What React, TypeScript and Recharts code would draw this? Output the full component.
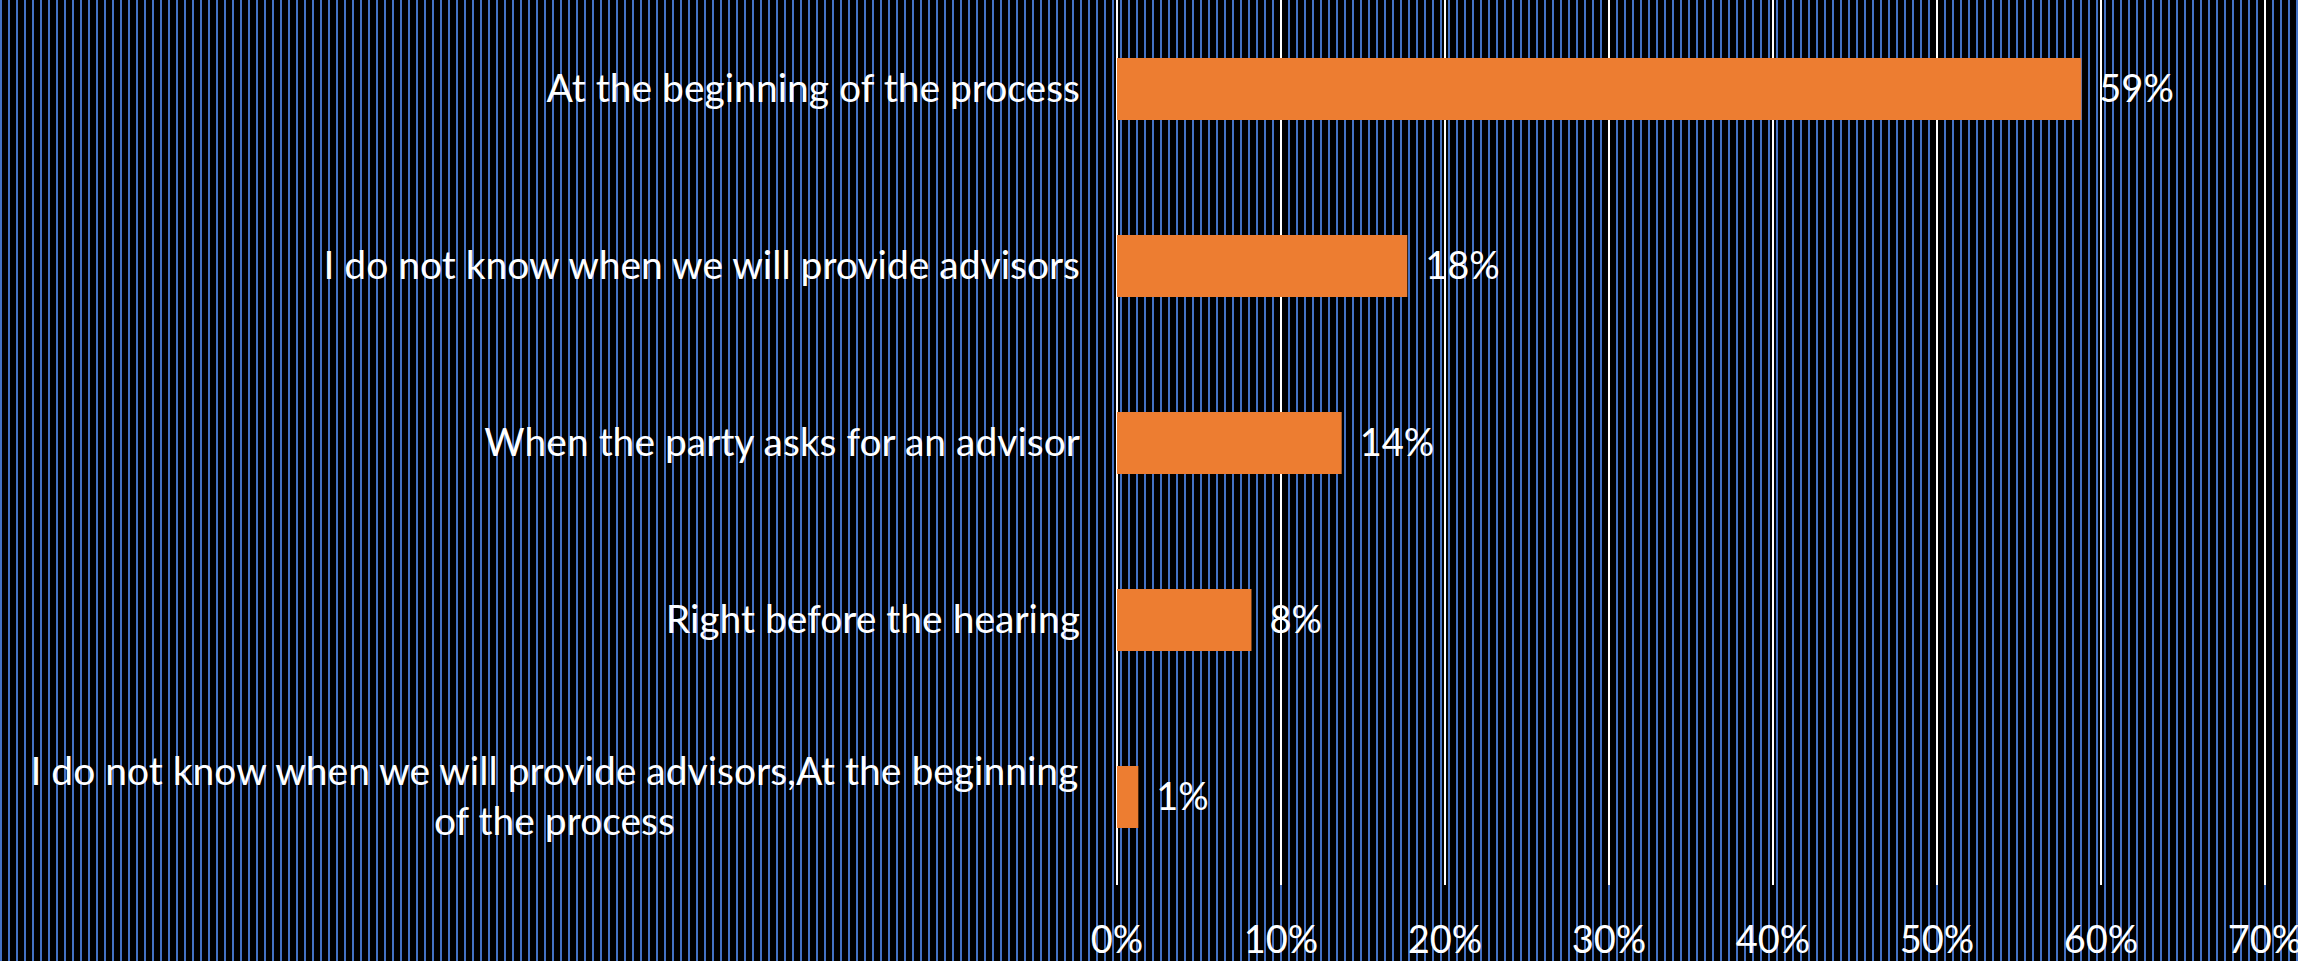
import React from 'react';
import { BarChart, Bar, XAxis, YAxis, CartesianGrid, LabelList } from 'recharts';

const categories = [
  'At the beginning of the process ',
  'I do not know when we will provide advisors',
  'When the party asks for an advisor',
  'Right before the hearing',
  'I do not know when we will provide advisors,At the beginning of the process',
];
const shares = [58.8, 17.7, 13.7, 8.2, 1.3];
const xTicks = [0, 10, 20, 30, 40, 50, 60, 70];

const FONT = 'Lato';
const LABEL_SIZE = 39;
const TICK_SIZE = 38;
const LINE_H = 50;

const data = categories.map((name, i) => ({ name, value: shares[i] }));

let ctx: CanvasRenderingContext2D | null = null;
const textWidth = (s: string, size: number) => {
  if (!ctx) ctx = document.createElement('canvas').getContext('2d');
  if (!ctx) return s.length * size * 0.5;
  ctx.font = `${size}px ${FONT}`;
  return ctx.measureText(s).width;
};

const wrap = (s: string, maxW: number, size: number) => {
  const words = s.split(' ');
  const lines: string[] = [];
  let cur = '';
  words.forEach((w) => {
    const next = cur ? cur + ' ' + w : w;
    if (cur && textWidth(next, size) > maxW) {
      lines.push(cur);
      cur = w;
    } else {
      cur = next;
    }
  });
  if (cur) lines.push(cur);
  return lines;
};

const CategoryTick = (props: any) => {
  const { x, y, payload } = props;
  const right = x;
  const lines = wrap(payload.value, right, LABEL_SIZE);
  if (lines.length === 1) {
    return (
      <text x={right} y={y} dy="0.35em" textAnchor="end" fill="#fff" fontSize={LABEL_SIZE}>
        {lines[0]}
      </text>
    );
  }
  const blockW = Math.max(...lines.map((l) => textWidth(l, LABEL_SIZE)));
  const cx = right - blockW / 2;
  return (
    <text x={cx} y={y} textAnchor="middle" fill="#fff" fontSize={LABEL_SIZE}>
      {lines.map((l, i) => (
        <tspan key={i} x={cx} y={y + (i - (lines.length - 1) / 2) * LINE_H} dy="0.35em">
          {l}
        </tspan>
      ))}
    </text>
  );
};

const PercentTick = (props: any) => {
  const { x, y, payload } = props;
  return (
    <text x={x} y={y + 68} textAnchor="middle" fill="#fff" fontSize={TICK_SIZE}>
      {`${payload.value}%`}
    </text>
  );
};

export default function App() {
  return (
    <div
      style={{
        position: 'absolute',
        left: 0,
        top: 0,
        width: 2298,
        height: 961,
        fontFamily: FONT,
        background: 'repeating-linear-gradient(90deg, #4472C4 0px, #4472C4 2px, #000 2px, #000 8px)',
      }}
    >
      <BarChart
        width={2298}
        height={961}
        data={data}
        layout="vertical"
        margin={{ top: 0, right: 33, bottom: 0, left: 0 }}
      >
        <CartesianGrid horizontal={false} vertical stroke="#fff" strokeWidth={2} />
        <XAxis
          type="number"
          domain={[0, 70]}
          ticks={xTicks}
          axisLine={false}
          tickLine={false}
          tickSize={0}
          tickMargin={0}
          height={76}
          tick={<PercentTick />}
          interval={0}
        />
        <YAxis
          type="category"
          dataKey="name"
          width={1117}
          axisLine={false}
          tickLine={false}
          tickSize={0}
          tickMargin={37}
          tick={<CategoryTick />}
          interval={0}
        />
        <Bar dataKey="value" fill="#ED7D31" barSize={62} isAnimationActive={false}>
          <LabelList
            dataKey="value"
            position="right"
            offset={18}
            fill="#fff"
            fontSize={TICK_SIZE}
            formatter={(v: any) => `${Math.round(Number(v))}%`}
          />
        </Bar>
      </BarChart>
    </div>
  );
}
